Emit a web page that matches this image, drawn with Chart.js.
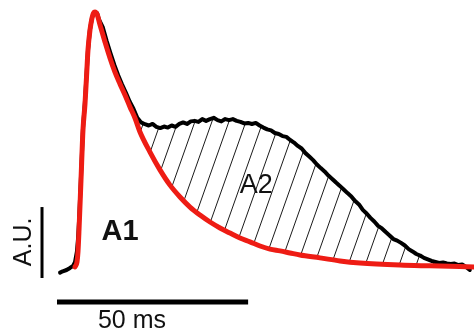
<!DOCTYPE html>
<html>
<head>
<meta charset="utf-8">
<script src="https://cdn.jsdelivr.net/npm/chart.js@4/dist/chart.umd.min.js"></script>
<style>
    html, body { margin: 0; padding: 0; background: #fff; }
    #grafico { display: block; }
</style>
</head>
<body>
<canvas id="grafico" width="474" height="332"></canvas>
<script>
// traza negra (registro), tiempo en ms y amplitud normalizada
const tiemposNegro = [
    0.8, 1.5, 2.5, 3.4, 4.2, 4.7, 5.2, 5.5, 5.8, 6.3, 6.8, 7.3, 7.7, 8.1, 8.6, 9.2, 9.9, 10.5,
    11, 12, 13, 14, 15, 16, 17, 18, 19, 20, 21, 22, 23, 24, 25, 26, 27, 28, 29, 30,
    31, 32, 33, 34, 35, 36, 37, 38, 39, 40, 41, 42, 43, 44, 45, 46, 47, 48, 49, 50,
    51, 52, 53, 54, 55, 56, 57, 58, 59, 60, 61, 62, 63, 64, 65, 66, 67, 68, 69, 70,
    71, 72, 73, 74, 75, 76, 77, 78, 79, 80, 81, 82, 83, 84, 85, 86, 87, 88, 89, 90,
    91, 92, 93, 94, 95, 96, 97, 98, 99, 100, 101, 102, 103, 104, 105, 106, 107, 108
];
const valoresNegro = [
    -0.01, -0.005, 0.0, 0.008, 0.016, 0.03, 0.07, 0.12, 0.2, 0.37, 0.55, 0.65, 0.75, 0.85, 0.93, 0.98, 1.0, 0.995,
    0.97, 0.94, 0.887, 0.84, 0.795, 0.755, 0.72, 0.688, 0.653, 0.625, 0.59, 0.572, 0.565, 0.56, 0.566, 0.555, 0.55, 0.556, 0.552, 0.56,
    0.555, 0.566, 0.572, 0.566, 0.576, 0.578, 0.574, 0.585, 0.578, 0.585, 0.59, 0.581, 0.576, 0.585, 0.581, 0.585, 0.578, 0.574, 0.568, 0.57,
    0.566, 0.57, 0.56, 0.552, 0.545, 0.541, 0.531, 0.527, 0.519, 0.516, 0.504, 0.494, 0.481, 0.471, 0.453, 0.440, 0.426, 0.409, 0.395, 0.382,
    0.366, 0.353, 0.339, 0.326, 0.312, 0.298, 0.285, 0.267, 0.254, 0.233, 0.219, 0.202, 0.188, 0.171, 0.161, 0.147, 0.134, 0.120, 0.114, 0.105,
    0.095, 0.081, 0.072, 0.062, 0.056, 0.047, 0.041, 0.035, 0.031, 0.027, 0.029, 0.025, 0.023, 0.025, 0.019, 0.021, 0.012, 0.0
];

// traza roja (ajuste)
const tiemposRojo = [
    4.71, 5.23, 5.49, 5.76, 6.28, 6.80, 7.32, 7.72, 8.11, 8.63, 9.16, 9.55, 9.94,
    10.46, 11.25, 12.56, 13.86, 15.17, 16.48, 17.79, 19.10, 20.40, 21.71, 24.33, 26.94, 29.56,
    32.18, 34.79, 37.41, 40.03, 42.64, 45.26, 47.87, 50.49, 53.11, 55.72, 58.34, 60.95, 63.57,
    68.80, 74.03, 79.26, 89.73, 97.58, 109.09
];
const valoresRojo = [
    0.012, 0.031, 0.070, 0.155, 0.349, 0.543, 0.643, 0.748, 0.853, 0.930, 0.977, 0.996, 1.0,
    0.992, 0.950, 0.884, 0.822, 0.767, 0.721, 0.678, 0.632, 0.589, 0.535, 0.457, 0.388, 0.329,
    0.283, 0.244, 0.213, 0.186, 0.163, 0.143, 0.124, 0.109, 0.093, 0.081, 0.074, 0.066, 0.058,
    0.047, 0.035, 0.027, 0.019, 0.016, 0.012
];

// barras de escala
const barraTiempo = [0, 50];          // ms
const barraAmplitud = [-0.031, 0.244]; // A.U.

const etiquetas = [
    { texto: "A1", t: 16.5, v: 0.147, fuente: "bold 29px 'Liberation Sans', Arial, sans-serif", giro: 0 },
    { texto: "A2", t: 52.1, v: 0.329, fuente: "27px 'Liberation Sans', Arial, sans-serif", giro: 0 },
    { texto: "A.U.", t: -8.63, v: 0.109, fuente: "25px 'Liberation Sans', Arial, sans-serif", giro: -Math.PI / 2 },
    { texto: "50 ms", t: 19.6, v: -0.198, fuente: "25px 'Liberation Sans', Arial, sans-serif", giro: 0 }
];

function crearRayado() {
    const c = document.createElement("canvas");
    c.width = 17;
    c.height = 48;
    const g = c.getContext("2d");
    g.strokeStyle = "#1a1a1a";
    g.lineWidth = 1;
    g.beginPath();
    g.moveTo(0, 48); g.lineTo(17, 0);
    g.moveTo(-17, 48); g.lineTo(0, 0);
    g.moveTo(17, 48); g.lineTo(34, 0);
    g.stroke();
    return g.createPattern(c, "repeat");
}

function puntos(xs, ys) {
    return xs.map((x, i) => ({ x: x, y: ys[i] }));
}

const textos = {
    id: "textos",
    afterDraw(chart) {
        const ctx = chart.ctx;
        const sx = chart.scales.x;
        const sy = chart.scales.y;
        etiquetas.forEach(e => {
            ctx.save();
            ctx.translate(sx.getPixelForValue(e.t), sy.getPixelForValue(e.v));
            ctx.rotate(e.giro);
            ctx.font = e.fuente;
            ctx.fillStyle = "#111";
            ctx.textAlign = "center";
            ctx.textBaseline = "middle";
            ctx.fillText(e.texto, 0, 0);
            ctx.restore();
        });
    }
};

const ctx = document.getElementById("grafico");

new Chart(ctx, {
    type: "line",
    data: {
        datasets: [
            {
                label: "ajuste",
                data: puntos(tiemposRojo, valoresRojo),
                borderColor: "#ee1c14",
                borderWidth: 5,
                pointRadius: 0,
                cubicInterpolationMode: "monotone",
                borderCapStyle: "round",
                borderJoinStyle: "round",
                fill: false
            },
            {
                label: "registro",
                data: puntos(tiemposNegro, valoresNegro),
                borderColor: "#000",
                borderWidth: 4,
                pointRadius: 0,
                tension: 0,
                borderCapStyle: "round",
                borderJoinStyle: "round",
                fill: { target: 0, above: crearRayado(), below: "rgba(0,0,0,0)" }
            },
            {
                label: "barra tiempo",
                data: barraTiempo.map(t => ({ x: t, y: -0.124 })),
                borderColor: "#000",
                borderWidth: 5,
                pointRadius: 0,
                fill: false
            },
            {
                label: "barra amplitud",
                data: barraAmplitud.map(v => ({ x: -3.92, y: v })),
                borderColor: "#000",
                borderWidth: 3,
                pointRadius: 0,
                fill: false
            }
        ]
    },
    options: {
        responsive: false,
        animation: false,
        layout: { padding: 0 },
        plugins: {
            legend: { display: false },
            tooltip: { enabled: false }
        },
        scales: {
            x: { type: "linear", display: false, min: -14.91, max: 109.09 },
            y: { type: "linear", display: false, min: -0.2403, max: 1.0465 }
        }
    },
    plugins: [textos]
});
</script>
</body>
</html>
